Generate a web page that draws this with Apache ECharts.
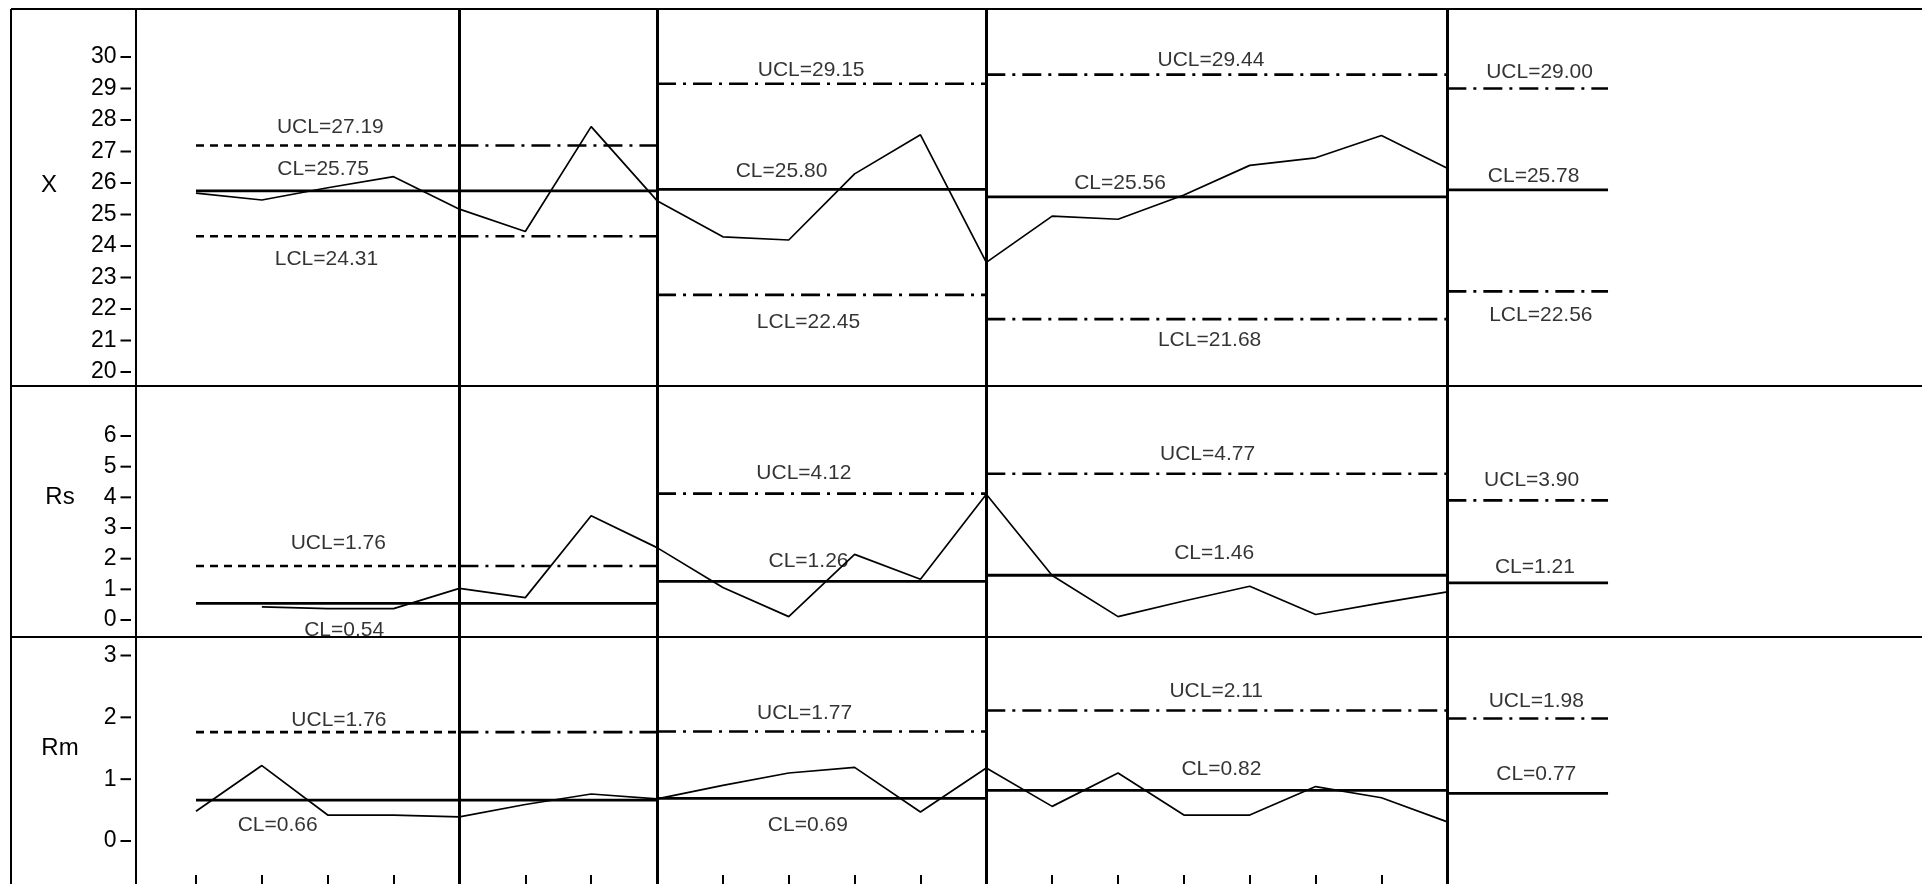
<!DOCTYPE html>
<html><head><meta charset="utf-8">
<script src="https://cdn.jsdelivr.net/npm/echarts@6/dist/echarts.min.js"></script>
<style>html,body{margin:0;padding:0;background:#fff}#c{width:1922px;height:884px}</style>
</head><body><div id="c"></div>
<script>
// ---------------- DATA ----------------
const sampleIndex = [0,1,2,3,4,5,6,7,8,9,10,11,12,13,14,15,16,17,18,19];
const xValues  = [25.68,25.46,25.85,26.20,25.17,24.46,27.79,25.44,24.29,24.19,26.29,27.53,23.48,24.95,24.85,25.62,26.56,26.80,27.51,26.47];
const rsValues = [null,0.43,0.37,0.37,1.03,0.73,3.40,2.36,1.06,0.11,2.14,1.33,4.10,1.45,0.11,0.62,1.10,0.18,0.56,0.92];
const rmValues = [0.48,1.22,0.42,0.42,0.39,0.59,0.76,0.68,0.90,1.10,1.19,0.47,1.18,0.56,1.10,0.42,0.42,0.88,0.70,0.31];

const phaseStart = [0, 7, 12, 19];
const phaseEnd   = [7, 12, 19, 21.44];
const trialEnd   = 4;            // limits of phase 1 are dashed up to this sample

const xUCL = [27.19, 29.15, 29.44, 29.00];
const xCL  = [25.75, 25.80, 25.56, 25.78];
const xLCL = [24.31, 22.45, 21.68, 22.56];
const rsUCL = [1.76, 4.12, 4.77, 3.90];
const rsCL  = [0.54, 1.26, 1.46, 1.21];
const rmUCL = [1.76, 1.77, 2.11, 1.98];
const rmCL  = [0.66, 0.69, 0.82, 0.77];

const xTicks  = [20,21,22,23,24,25,26,27,28,29,30];
const rsTicks = [0,1,2,3,4,5,6];
const rmTicks = [0,1,2,3];
const panelNames = ['X', 'Rs', 'Rm'];

// ---------------- LAYOUT ----------------
const FONT = "'Liberation Sans', Arial, sans-serif";
const LEFT = 196, UNIT = 65.86, XMAX = 22;
const panels = [
  {top: 57,    height: 315},
  {top: 436,   height: 184},
  {top: 655.5, height: 185.5}
];
const labelPos = {
  xU:  {x:[2.04, 9.34, 15.41, 20.40], dy:[-18,-14,-14,-16]},
  xC:  {x:[1.93, 8.89, 14.03, 20.31], dy:[-22,-18,-14,-14]},
  xL:  {x:[1.98, 9.30, 15.39, 20.42], dy:[23, 27, 21, 24]},
  rsU: {x:[2.16, 9.23, 15.36, 20.28], dy:[-23,-20,-20,-20]},
  rsC: {x:[2.25, 9.30, 15.46, 20.33], dy:[27,-20,-22,-16]},
  rmU: {x:[2.17, 9.24, 15.49, 20.35], dy:[-12,-18,-19,-17]},
  rmC: {x:[1.24, 9.29, 15.57, 20.35], dy:[25, 27,-21,-19]}
};
const DASH = [8, 6];
const DASHDOT = [19, 7, 3, 7];

// ---------------- BUILD ----------------
const grid = panels.map(p => ({left: LEFT, top: p.top, width: UNIT*XMAX, height: p.height}));
grid.push({left: LEFT, top: 9, width: UNIT*19, height: 875});

const xAxis = panels.map((p,i) => ({type:'value', gridIndex:i, min:0, max:XMAX, show:false}));
xAxis.push({type:'value', gridIndex:3, min:0, max:sampleIndex[sampleIndex.length-1], interval:1, position:'bottom',
  axisLine:{show:false}, axisLabel:{show:false}, splitLine:{show:false},
  axisTick:{show:true, inside:true, length:9, lineStyle:{color:'#000', width:2}}});

function yAx(i, ticks){
  return {type:'value', gridIndex:i, min:ticks[0], max:ticks[ticks.length-1], interval:1,
    axisLine:{show:false}, splitLine:{show:false}, axisTick:{show:false},
    axisLabel:{margin:LEFT-131, color:'#000', fontSize:23, fontFamily:FONT,
      formatter: v => v + '{s| }{d| }',
      rich:{ s:{width:4, fontSize:23}, d:{width:10.5, height:2, backgroundColor:'#000', verticalAlign:'middle', fontSize:2, lineHeight:2} }}};
}
const yAxis = [yAx(0,xTicks), yAx(1,rsTicks), yAx(2,rmTicks),
  {type:'value', gridIndex:3, min:0, max:1, show:false}];

const series = [];
// phase dividers
series.push({type:'line', xAxisIndex:3, yAxisIndex:3, data:[[0,0]], showSymbol:false, lineStyle:{opacity:0}, silent:true,
  markLine:{silent:true, symbol:['none','none'], label:{show:false}, animation:false,
    lineStyle:{color:'#000', width:3, type:'solid'},
    data:[trialEnd, ...phaseStart.slice(1)].map(v => ({xAxis:v}))}});

function seg(gi, a, b, v, type, w){
  series.push({type:'line', xAxisIndex:gi, yAxisIndex:gi, data:[[a,v],[b,v]], symbol:'none', silent:true,
    animation:false, clip:false, lineStyle:{color:'#000', width:w, type:type}, z:3});
}
function limits(gi, arr, isCenter){
  arr.forEach((v,k) => {
    if (isCenter) { seg(gi, phaseStart[k], phaseEnd[k], v, 'solid', 2.8); return; }
    if (k === 0) {
      seg(gi, phaseStart[0], trialEnd, v, DASH, 2.6);
      seg(gi, trialEnd, phaseEnd[0], v, DASHDOT, 2.6);
    } else seg(gi, phaseStart[k], phaseEnd[k], v, DASHDOT, 2.6);
  });
}
limits(0, xUCL, false); limits(0, xCL, true); limits(0, xLCL, false);
limits(1, rsUCL, false); limits(1, rsCL, true);
limits(2, rmUCL, false); limits(2, rmCL, true);

function dataLine(gi, vals){
  series.push({type:'line', xAxisIndex:gi, yAxisIndex:gi, symbol:'none', animation:false, clip:false,
    data: vals.map((v,i) => v === null ? null : [sampleIndex[i], v]).filter(d => d !== null),
    lineStyle:{color:'#000', width:1.7}, z:5});
}
dataLine(0, xValues); dataLine(1, rsValues); dataLine(2, rmValues);

function labels(gi, groups){
  const items = [];
  groups.forEach(([name, arr, pos]) => arr.forEach((v,k) => items.push({
    value:[pos.x[k], v],
    label:{formatter: name + '=' + v.toFixed(2), offset:[0, pos.dy[k]]}
  })));
  series.push({type:'scatter', xAxisIndex:gi, yAxisIndex:gi, symbolSize:0, silent:true, animation:false, clip:false, z:6,
    label:{show:true, position:'inside', color:'#000', fontSize:21, fontFamily:FONT},
    data: items});
}
labels(0, [['UCL', xUCL, labelPos.xU], ['CL', xCL, labelPos.xC], ['LCL', xLCL, labelPos.xL]]);
labels(1, [['UCL', rsUCL, labelPos.rsU], ['CL', rsCL, labelPos.rsC]]);
labels(2, [['UCL', rmUCL, labelPos.rmU], ['CL', rmCL, labelPos.rmC]]);

// frame decoration
const ls = {stroke:'#000', lineWidth:2};
const nameFont = '24px ' + FONT;
const graphic = [
  {type:'line', z:50, shape:{x1:11, y1:9, x2:1922, y2:9}, style:ls},
  {type:'line', z:50, shape:{x1:11, y1:9, x2:11, y2:884}, style:ls},
  {type:'line', z:50, shape:{x1:136, y1:9, x2:136, y2:884}, style:ls},
  {type:'line', z:50, shape:{x1:11, y1:386, x2:1922, y2:386}, style:ls},
  {type:'line', z:50, shape:{x1:11, y1:637, x2:1922, y2:637}, style:ls},
  {type:'text', z:50, x:49, y:185, style:{text:panelNames[0], font:nameFont, fill:'#000', textAlign:'center', textVerticalAlign:'middle'}},
  {type:'text', z:50, x:60, y:497, style:{text:panelNames[1], font:nameFont, fill:'#000', textAlign:'center', textVerticalAlign:'middle'}},
  {type:'text', z:50, x:60, y:748, style:{text:panelNames[2], font:nameFont, fill:'#000', textAlign:'center', textVerticalAlign:'middle'}}
];

const chart = echarts.init(document.getElementById('c'), null, {renderer:'canvas'});
chart.setOption({animation:false, backgroundColor:'#fff', grid, xAxis, yAxis, series, graphic});
</script></body></html>
